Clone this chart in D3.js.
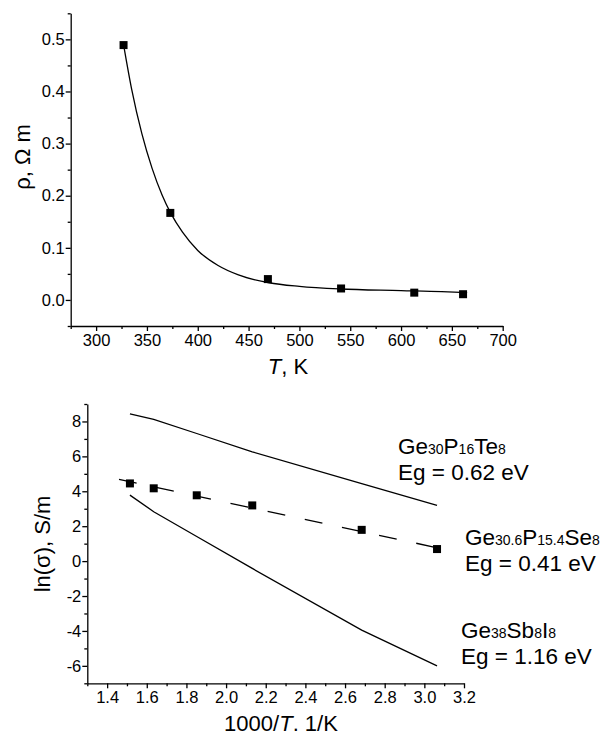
<!DOCTYPE html>
<html>
<head>
<meta charset="utf-8">
<script src="https://cdn.jsdelivr.net/npm/d3@7"></script>
<style>
  html, body { margin: 0; padding: 0; background: #fff; }
  svg text { font-family: "Liberation Sans", Arial, Helvetica, sans-serif; fill: #000; }
  .axis path, .axis line { stroke: #000; stroke-width: 1.3px; }
  .axis text { font-size: 16.5px; }
</style>
</head>
<body>
<svg id="chart" width="613" height="739"></svg>
<script>
// ---------- Top panel: resistivity vs temperature ----------
const rhoT      = [327, 373, 469, 541, 613, 661];
const rhoValues = [0.489, 0.167, 0.040, 0.022, 0.014, 0.011];
// fitted curve as drawn on the picture
const fitT      = [327, 335, 345, 355, 365, 373, 385, 400, 420, 440, 470, 500, 540, 600, 640, 665];
const fitRho    = [0.490, 0.404, 0.319, 0.253, 0.201, 0.168, 0.130, 0.095, 0.066, 0.048, 0.033, 0.026, 0.021, 0.018, 0.016, 0.014];
const topXTicks = [300, 350, 400, 450, 500, 550, 600, 650, 700];
const topYTicks = [0.0, 0.1, 0.2, 0.3, 0.4, 0.5];

// ---------- Bottom panel: ln(sigma) vs 1000/T ----------
const invT      = [1.515, 1.635, 1.852, 2.132, 2.684, 3.064];
const lnSigmaSe = [4.45, 4.17, 3.77, 3.19, 1.79, 0.69];   // Ge30.6P15.4Se8 (markers)
const fitSeX    = [1.46, 3.12];
const fitSeY    = [4.68, 0.63];
const lnSigmaTe = [8.44, 8.12, 7.31, 6.26, 4.44, 3.19];   // Ge30P16Te8
const lnSigmaI  = [3.78, 2.83, 1.41, -0.42, -3.95, -6.00]; // Ge38Sb8I8
const botXTicks = [1.4, 1.6, 1.8, 2.0, 2.2, 2.4, 2.6, 2.8, 3.0, 3.2];
const botYTicks = [-6, -4, -2, 0, 2, 4, 6, 8];

const svg = d3.select("#chart");

function drawAxes(g, x, y, xTicks, xMinor, yTicks, yMinor, xFmt, yFmt) {
  const h = y.range()[0];
  const l = x.range()[0];
  g.append("g").attr("class", "axis").attr("transform", `translate(0,${h})`)
    .call(d3.axisBottom(x).tickValues(xMinor).tickSize(3).tickFormat(""))
    .call(a => a.select(".domain").remove());
  g.append("g").attr("class", "axis").attr("transform", `translate(0,${h})`)
    .call(d3.axisBottom(x).tickValues(xTicks).tickSize(5).tickSizeOuter(0).tickPadding(3).tickFormat(xFmt));
  g.append("g").attr("class", "axis").attr("transform", `translate(${l},0)`)
    .call(d3.axisLeft(y).tickValues(yMinor).tickSize(3).tickFormat(""))
    .call(a => a.select(".domain").remove());
  g.append("g").attr("class", "axis").attr("transform", `translate(${l},0)`)
    .call(d3.axisLeft(y).tickValues(yTicks).tickSize(5).tickSizeOuter(0).tickPadding(1).tickFormat(yFmt));
}

// ----- top -----
{
  const x = d3.scaleLinear().domain([275, 700]).range([70.7, 502.7]);
  const y = d3.scaleLinear().domain([-0.05, 0.55]).range([326, 13.3]);
  const g = svg.append("g");
  const xMinor = d3.range(275, 700, 25).filter(v => v % 50 !== 0);
  const yMinor = [-0.05, 0.05, 0.15, 0.25, 0.35, 0.45, 0.55];
  drawAxes(g, x, y, topXTicks, xMinor, topYTicks, yMinor, v => String(v), v => v.toFixed(1));

  g.append("path")
    .datum(fitT.map((t, i) => [t, fitRho[i]]))
    .attr("fill", "none").attr("stroke", "#000").attr("stroke-width", 1.3)
    .attr("d", d3.line().x(d => x(d[0])).y(d => y(d[1])).curve(d3.curveMonotoneX));

  g.selectAll("rect.pt").data(rhoT).enter().append("rect")
    .attr("x", (d) => x(d) - 4).attr("y", (d, i) => y(rhoValues[i]) - 4)
    .attr("width", 8).attr("height", 8).attr("fill", "#000");

  const yl = g.append("text")
    .attr("transform", "translate(30,157) rotate(-90)")
    .attr("text-anchor", "middle").style("font-size", "22px");
  yl.text("ρ, Ω m");

  const xl = g.append("text").attr("x", 288).attr("y", 374)
    .attr("text-anchor", "middle").style("font-size", "22px");
  xl.append("tspan").style("font-style", "italic").text("T");
  xl.append("tspan").text(", K");
}

// ----- bottom -----
{
  const x = d3.scaleLinear().domain([1.3, 3.2]).range([87.3, 464]);
  const y = d3.scaleLinear().domain([-7, 9]).range([683.3, 404]);
  const g = svg.append("g");
  const xMinor = [1.3, 1.5, 1.7, 1.9, 2.1, 2.3, 2.5, 2.7, 2.9, 3.1];
  const yMinor = [-7, -5, -3, -1, 1, 3, 5, 7, 9];
  drawAxes(g, x, y, botXTicks, xMinor, botYTicks, yMinor, v => v.toFixed(1), v => String(v));

  const line = d3.line().x(d => x(d[0])).y(d => y(d[1]));
  g.append("path").datum(invT.map((v, i) => [v, lnSigmaTe[i]]))
    .attr("fill", "none").attr("stroke", "#000").attr("stroke-width", 1.3).attr("d", line);
  g.append("path").datum(invT.map((v, i) => [v, lnSigmaI[i]]))
    .attr("fill", "none").attr("stroke", "#000").attr("stroke-width", 1.3).attr("d", line);
  g.append("path").datum(fitSeX.map((v, i) => [v, fitSeY[i]]))
    .attr("fill", "none").attr("stroke", "#000").attr("stroke-width", 1.3)
    .attr("stroke-dasharray", "18,20").attr("d", line);

  g.selectAll("rect.pt").data(invT).enter().append("rect")
    .attr("x", d => x(d) - 4).attr("y", (d, i) => y(lnSigmaSe[i]) - 4)
    .attr("width", 8).attr("height", 8).attr("fill", "#000");

  const yl = g.append("text")
    .attr("transform", "translate(50,544) rotate(-90)")
    .attr("text-anchor", "middle").style("font-size", "22px");
  yl.text("ln(σ), S/m");

  const xl = g.append("text").attr("x", 281).attr("y", 731)
    .attr("text-anchor", "middle").style("font-size", "22px");
  xl.append("tspan").text("1000/");
  xl.append("tspan").style("font-style", "italic").text("T");
  xl.append("tspan").text(". 1/K");

  const labels = [
    { x: 398, y: 454, parts: [["Ge", 0], ["30", 1], ["P", 0], ["16", 1], ["Te", 0], ["8", 1]], eg: "Eg = 0.62 eV" },
    { x: 465, y: 545, parts: [["Ge", 0], ["30.6", 1], ["P", 0], ["15.4", 1], ["Se", 0], ["8", 1]], eg: "Eg = 0.41 eV" },
    { x: 461, y: 638, parts: [["Ge", 0], ["38", 1], ["Sb", 0], ["8", 1], ["I", 0], ["8", 1]], eg: "Eg = 1.16 eV" }
  ];
  labels.forEach(lb => {
    const t = g.append("text").attr("x", lb.x).attr("y", lb.y).style("font-size", "22.5px");
    lb.parts.forEach(([s, sub]) => {
      t.append("tspan").style("font-size", sub ? "14px" : "22.5px").text(s);
    });
    g.append("text").attr("x", lb.x).attr("y", lb.y + 26).style("font-size", "22.5px").text(lb.eg);
  });
}
</script>
</body>
</html>
